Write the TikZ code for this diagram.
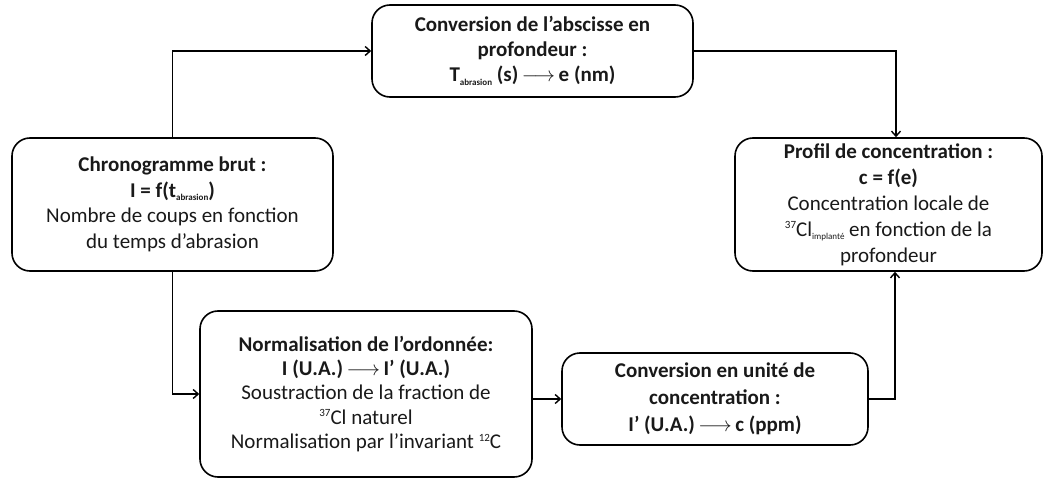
\documentclass[tikz,border=0pt]{standalone}
\usepackage{fontspec}
\setmainfont{Carlito}
\usetikzlibrary{arrows.meta}
\newcommand\mysub[1]{\raisebox{-0.35ex}{\fontsize{9}{9}\selectfont #1}}
\newcommand\mysup[1]{\raisebox{0.75ex}{\fontsize{11}{11}\selectfont #1}}
\newcommand\myarrow{\,$\longrightarrow$\,}
\begin{document}
\begin{tikzpicture}[x=1pt,y=-1pt,
  box/.style={draw, line width=1.6pt, rounded corners=18pt, inner sep=0pt, align=center,
    font=\fontsize{21}{25.5}\selectfont, text=black!90},
  conn/.style={line width=1.6pt, -{Straight Barb[length=5pt,width=9pt,line width=1.4pt]}}]
\useasboundingbox (0,0) rectangle (1045,484);
\node[box, minimum width=321pt, minimum height=133pt] (chrono) at (172.5,204.5)
  {\textbf{Chronogramme brut :}\\
   \textbf{I = f(t\mysub{abrasion})}\\
   Nombre de coups en fonction\\
   du temps d’abrasion};
\node[box, minimum width=321pt, minimum height=92pt, font=\fontsize{21}{25}\selectfont] (top) at (532.5,51)
  {\textbf{Conversion de l'abscisse en}\\
   \textbf{profondeur :}\\
   \textbf{T\mysub{abrasion} (s)\myarrow e (nm)}};
\node[box, minimum width=307pt, minimum height=133pt, font=\fontsize{21}{26}\selectfont] (profil) at (888.5,204.5)
  {\textbf{Profil de concentration :}\\
   \textbf{c = f(e)}\\
   Concentration locale de\\
   \mysup{37}Cl\mysub{implanté} en fonction de la\\
   profondeur};
\node[box, minimum width=332pt, minimum height=166pt, font=\fontsize{21}{24.3}\selectfont] (norm) at (366,394)
  {\textbf{Normalisation de l’ordonnée:}\\
   \textbf{I (U.A.)\myarrow I’ (U.A.)}\\
   Soustraction de la fraction de\\
   \mysup{37}Cl naturel\\
   Normalisation par l'invariant \mysup{12}C};
\node[box, minimum width=306pt, minimum height=92pt, font=\fontsize{21}{27}\selectfont] (conv) at (715,399)
  {\textbf{Conversion en unité de}\\
   \textbf{concentration :}\\
   \textbf{I’ (U.A.)\myarrow c (ppm)}};
\coordinate (c1) at (172,53);
\coordinate (c2) at (896,51);
\coordinate (c3) at (895,398);
\draw[conn] (chrono.north) |- (top.west);
\draw[conn] (top.east) -| (c2 |- profil.north);
\draw[conn] (chrono.south) |- (norm.west);
\draw[conn] (norm.east |- conv.west) -- (conv.west);
\draw[conn] (conv.east) -| (c3 |- profil.south);
\end{tikzpicture}
\end{document}
